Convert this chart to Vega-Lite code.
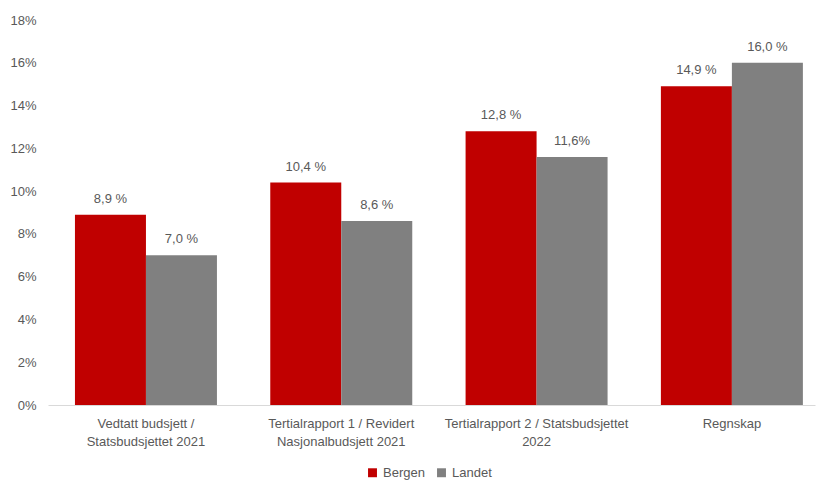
{
  "$schema": "https://vega.github.io/schema/vega-lite/v6.json",
  "width": 767,
  "height": 385,
  "autosize": {"type": "none"},
  "padding": {"left": 48, "top": 20, "right": 2, "bottom": 75},
  "background": "white",
  "config": {
    "view": {"stroke": null},
    "font": "Liberation Sans",
    "axis": {"labelFont": "Liberation Sans", "labelFontSize": 13, "labelColor": "#595959"},
    "legend": {"labelFont": "Liberation Sans", "labelFontSize": 13, "labelColor": "#595959"}
  },
  "data": {
    "values": [
      {"kategori": "Vedtatt budsjett /|Statsbudsjettet 2021", "serie": "Bergen", "verdi": 0.089, "tekst": "8,9 %"},
      {"kategori": "Vedtatt budsjett /|Statsbudsjettet 2021", "serie": "Landet", "verdi": 0.070, "tekst": "7,0 %"},
      {"kategori": "Tertialrapport 1 / Revidert|Nasjonalbudsjett 2021", "serie": "Bergen", "verdi": 0.104, "tekst": "10,4 %"},
      {"kategori": "Tertialrapport 1 / Revidert|Nasjonalbudsjett 2021", "serie": "Landet", "verdi": 0.086, "tekst": "8,6 %"},
      {"kategori": "Tertialrapport 2 / Statsbudsjettet|2022", "serie": "Bergen", "verdi": 0.128, "tekst": "12,8 %"},
      {"kategori": "Tertialrapport 2 / Statsbudsjettet|2022", "serie": "Landet", "verdi": 0.116, "tekst": "11,6%"},
      {"kategori": "Regnskap", "serie": "Bergen", "verdi": 0.149, "tekst": "14,9 %"},
      {"kategori": "Regnskap", "serie": "Landet", "verdi": 0.160, "tekst": "16,0 %"}
    ]
  },
  "encoding": {
    "x": {
      "field": "kategori", "type": "nominal", "sort": null, "title": null,
      "scale": {"paddingInner": 0.273, "paddingOuter": 0.1, "align": 0.69},
      "axis": {
        "labelExpr": "split(datum.label, '|')",
        "labelAngle": 0, "ticks": false, "domainColor": "#d9d9d9", "domainWidth": 1,
        "labelPadding": 12, "labelLineHeight": 18, "labelBaseline": "top", "labelLimit": 0
      }
    },
    "xOffset": {"field": "serie", "type": "nominal", "sort": ["Bergen", "Landet"]},
    "y": {
      "field": "verdi", "type": "quantitative", "title": null,
      "scale": {"domain": [0, 0.18]},
      "axis": {"values": [0, 0.02, 0.04, 0.06, 0.08, 0.1, 0.12, 0.14, 0.16, 0.18], "format": ".0%", "grid": false, "domain": false, "ticks": false, "labelPadding": 12}
    }
  },
  "layer": [
    {
      "mark": {"type": "bar"},
      "encoding": {
        "color": {
          "field": "serie", "type": "nominal", "title": null,
          "scale": {"domain": ["Bergen", "Landet"], "range": ["#C00000", "#808080"]},
          "legend": {"orient": "none", "legendX": 318, "legendY": 446, "direction": "horizontal", "symbolType": "square", "symbolSize": 80, "symbolStrokeWidth": 0, "columnPadding": 10, "labelOffset": 4}
        }
      }
    },
    {
      "mark": {"type": "text", "baseline": "bottom", "dy": -9, "fontSize": 13, "color": "#595959"},
      "encoding": {"text": {"field": "tekst"}}
    }
  ]
}
